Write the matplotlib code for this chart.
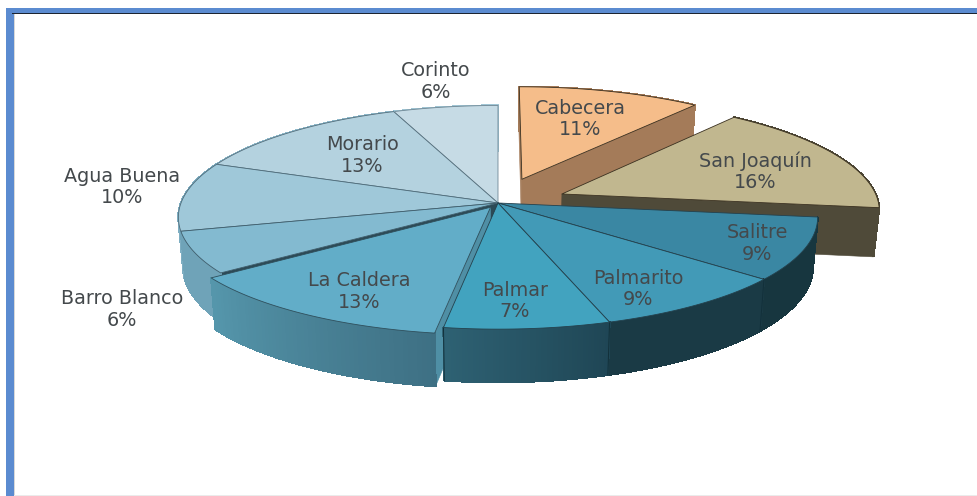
import numpy as np
import matplotlib
matplotlib.use("Agg")
import matplotlib.pyplot as plt
from matplotlib.patches import Polygon, Rectangle
from matplotlib.colors import to_rgb

# ---- data (clockwise from 12 o'clock) ----
categories = ["Cabecera", "San Joaquín", "Salitre", "Palmarito", "Palmar",
              "La Caldera", "Barro Blanco", "Agua Buena", "Morario", "Corinto"]
shares = [10.7, 16.3, 9, 9, 7.4, 12.6, 6, 10, 13, 6]

# ---- style / layout ----
explode = [0.235, 0.22, 0, 0, 0, 0.045, 0, 0, 0, 0]
top_colors = ["#F5BD8A", "#C1B78F", "#3A87A3", "#429AB7", "#42A3BF",
              "#62ADC8", "#83BAD0", "#9FC8D9", "#B4D2DF", "#C6DBE5"]
wall_a = ["#A47B59", "#4F4A39", "#17363F", "#1A3A45", "#1F4655",
          "#3E7084", "#6FA3B8", "#7EAEC2", "#8FBBCD", "#A0C5D4"]
wall_b = ["#A47B59", "#4F4A39", "#17363F", "#1A3A45", "#2E6173",
          "#5596AB", "#6FA3B8", "#7EAEC2", "#8FBBCD", "#A0C5D4"]
cut_colors = ["#A47B59", "#4F4A39", "#17363F", "#1A3A45", "#1F4655",
              "#4F8FA5", "#2C4A56", "#7EAEC2", "#8FBBCD", "#A0C5D4"]
edge_colors = ["#3A3020", "#3A3020", "#24414D", "#24414D", "#24414D",
               "#2F4F5C", "#3F5D6B", "#4F6C7A", "#566F7C", "#6F8794"]
draw_order = [0, 1, 9, 8, 7, 6, 2, 3, 5, 4]
label_xy = {"Cabecera": (580, 108), "San Joaquín": (755, 161), "Salitre": (757, 233),
            "Palmarito": (638, 278), "Palmar": (515, 290), "La Caldera": (359, 281),
            "Barro Blanco": (122, 299), "Agua Buena": (122, 176), "Morario": (362, 145),
            "Corinto": (436, 71)}
CX, CY, A, B, K = 498, 203, 317, 110, 0.128
VIEW_Y = -1 / K


def project(X, Y, bottom=False):
    X, Y = np.asarray(X, float), np.asarray(Y, float)
    w = 1 + K * Y
    x = CX + A * X / w
    y = CY - B * Y / w
    if bottom:
        x = CX + (x - CX) * 0.985
        y = y + 49 - 4 * Y
    return x, y


fig = plt.figure(figsize=(9.77, 4.96), dpi=100)
ax = fig.add_axes([0, 0, 1, 1])
ax.set_xlim(0, 977)
ax.set_ylim(496, 0)
ax.axis("off")

# frame
ax.add_patch(Rectangle((6, 8), 977, 5, facecolor="#5B8BD0", edgecolor="none", zorder=1))
ax.add_patch(Rectangle((6, 8), 7.5, 490, facecolor="#5B8BD0", edgecolor="none", zorder=1))
ax.add_patch(Rectangle((12, 13), 970, 1.3, facecolor="#1C2430", edgecolor="none", zorder=1.1))
ax.add_patch(Rectangle((13.5, 14), 1.2, 490, facecolor="#D8D8D8", edgecolor="none", zorder=1.1))
ax.add_patch(Rectangle((14, 494.8), 970, 1.2, facecolor="#EBEBEB", edgecolor="none", zorder=1.1))

cum = np.concatenate([[0], np.cumsum(shares)]) / np.sum(shares) * 2 * np.pi
z = 2.0
for i in draw_order:
    t0, t1 = cum[i], cum[i + 1]
    mid = (t0 + t1) / 2
    ox, oy = explode[i] * np.sin(mid), explode[i] * np.cos(mid)
    th = np.linspace(t0, t1, 60)
    X, Y = ox + np.sin(th), oy + np.cos(th)

    # cut faces that look towards the viewer
    for t, sign in ((t0, -1), (t1, 1)):
        nx, ny = np.sin(t + sign * np.pi / 2), np.cos(t + sign * np.pi / 2)
        if (0 - ox) * nx + (VIEW_Y - oy) * ny > 0:
            ex, ey = ox + np.sin(t), oy + np.cos(t)
            a = project([ox, ex], [oy, ey])
            b = project([ex, ox], [ey, oy], True)
            ax.add_patch(Polygon(np.column_stack([np.r_[a[0], b[0]], np.r_[a[1], b[1]]]),
                                 facecolor=cut_colors[i], edgecolor=cut_colors[i],
                                 linewidth=0.4, zorder=z))
            z += 0.01

    # outer wall, shaded in small strips
    ca, cb = np.array(to_rgb(wall_a[i])), np.array(to_rgb(wall_b[i]))
    xt, yt = project(X, Y)
    xb, yb = project(X, Y, True)
    for j in range(len(th) - 1):
        col = ca + (cb - ca) * j / (len(th) - 2)
        ax.add_patch(Polygon([(xt[j], yt[j]), (xt[j + 1], yt[j + 1]),
                              (xb[j + 1], yb[j + 1]), (xb[j], yb[j])],
                             facecolor=col, edgecolor=col, linewidth=0.9,
                             antialiased=False, zorder=z))
    z += 0.01
    # dark seam between slices on the wall
    for k in (0, -1):
        if yt[k] > CY + 40 and explode[i] == 0 and i != 6:
            ax.plot([xt[k], xb[k]], [yt[k], yb[k]], color="#12303A", lw=0.7, zorder=z)
    z += 0.01

    # top face
    ax_, ay_ = project(ox, oy)
    ax.add_patch(Polygon(np.column_stack([np.r_[ax_, xt], np.r_[ay_, yt]]),
                         facecolor=top_colors[i], edgecolor=edge_colors[i],
                         linewidth=0.6, zorder=z, joinstyle="round"))
    z += 0.01

for name, share in zip(categories, shares):
    x, y = label_xy[name]
    ax.text(x, y, name, ha="center", va="center", fontsize=13.8, family="DejaVu Sans",
            color="#44494C", zorder=50)
    ax.text(x, y + 21.5, f"{round(share)}%", ha="center", va="center", fontsize=13.8,
            family="DejaVu Sans", color="#44494C", zorder=50)

fig.savefig("out.png", dpi=100)
